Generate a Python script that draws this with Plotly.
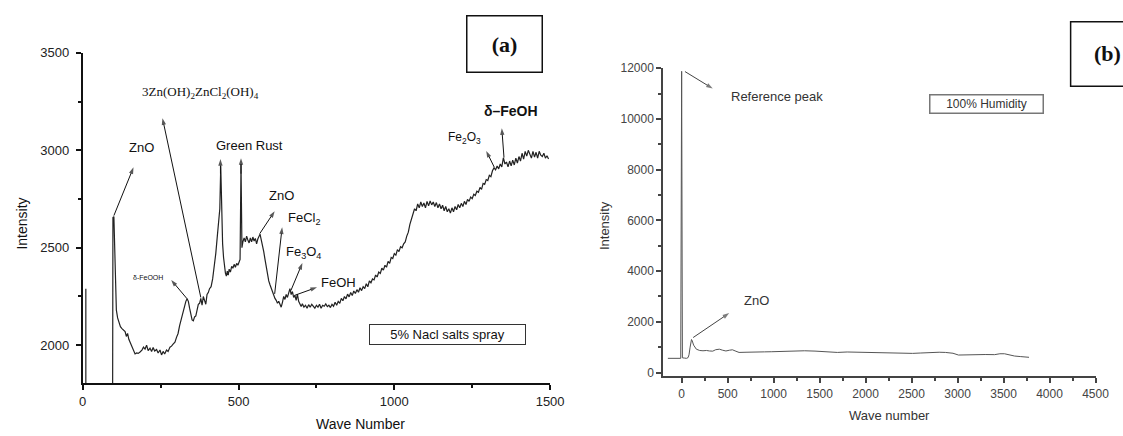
import plotly.graph_objects as go

W, H = 1123, 436

# ---------------- Panel (a): 5% NaCl salt spray ----------------
edge_a_x = [10, 10]
edge_a_y = [2290, 1750]

wave_a = [96, 97, 100, 104, 108, 112, 117, 121, 126, 131, 136, 140, 144, 148, 153, 158, 163, 168, 173, 178,
          184, 190, 195, 200, 205, 210, 216, 221, 226, 231, 237, 242, 248, 253, 258, 263, 269, 274, 280, 285,
          290, 296, 301, 306, 311, 316, 321, 326, 331, 335, 339, 343, 347, 351, 355, 359, 363, 367, 371, 375,
          379, 383, 387, 391, 395, 399, 403, 407, 412, 417, 422, 427, 432, 437, 440, 443, 446, 449, 452, 455,
          458, 461, 464, 467, 470, 474, 478, 482, 486, 490, 494, 498, 502, 505, 508, 511, 514, 518, 522, 526,
          530, 534, 538, 542, 546, 550, 554, 558, 562, 566, 569, 573, 577, 581, 585, 589, 593, 597, 601, 605,
          609, 613, 617, 621, 625, 629, 633, 637, 641, 645, 649, 653, 657, 661, 665, 669, 673, 677, 681, 685,
          689, 693, 697, 701, 705, 710, 715, 720, 725, 730, 735, 740, 745, 750, 755, 760, 765, 770, 775, 780,
          785, 790, 795, 800, 805, 810, 815, 820, 825, 830, 835, 840, 845, 850, 855, 860, 865, 870, 875, 880,
          885, 890, 895, 900, 905, 910, 915, 920, 925, 930, 935, 940, 945, 950, 955, 960, 965, 970, 975, 980,
          985, 990, 995, 1000, 1005, 1010, 1015, 1020, 1025, 1030, 1035, 1040, 1045, 1050, 1055, 1060, 1065, 1070, 1075, 1080,
          1085, 1090, 1095, 1100, 1105, 1110, 1115, 1120, 1125, 1130, 1135, 1140, 1145, 1150, 1155, 1160, 1165, 1170, 1175, 1180,
          1185, 1190, 1195, 1200, 1205, 1210, 1215, 1220, 1225, 1230, 1235, 1240, 1245, 1250, 1255, 1260, 1265, 1270, 1275, 1280,
          1285, 1290, 1295, 1300, 1305, 1310, 1315, 1320, 1325, 1330, 1335, 1340, 1345, 1350, 1355, 1360, 1365, 1370, 1375, 1380,
          1385, 1390, 1395, 1400, 1405, 1410, 1415, 1420, 1425, 1430, 1435, 1440, 1445, 1450, 1455, 1460, 1465, 1470, 1475, 1480,
          1485, 1490, 1495]
int_a = [1750, 2655, 2660, 2400, 2180, 2140, 2110, 2095, 2085, 2075, 2070, 2045, 2060, 2030, 2010, 1995, 1970, 1955, 1960, 1958,
         1965, 1975, 1990, 1980, 2000, 1972, 1985, 1968, 1988, 1970, 1978, 1960, 1975, 1950, 1968, 1955, 1975, 1968, 1990, 1995,
         2005, 2015, 2040, 2060, 2100, 2130, 2170, 2200, 2225, 2238, 2225, 2190, 2160, 2130, 2125, 2145, 2150, 2180, 2210, 2215,
         2240, 2205, 2250, 2230, 2210, 2260, 2270, 2290, 2300, 2340, 2400, 2470, 2560, 2650, 2700, 2920, 2620, 2520, 2450, 2400,
         2370, 2355, 2380, 2360, 2390, 2375, 2405, 2395, 2415, 2400, 2420, 2410, 2425, 2440, 2930, 2500, 2530, 2550, 2530, 2560,
         2540, 2525, 2550, 2530, 2555, 2535, 2548, 2520, 2545, 2560, 2570, 2540, 2515, 2480, 2440, 2400, 2370, 2330, 2310, 2290,
         2275, 2255, 2240, 2230, 2215, 2225, 2205, 2195, 2220, 2250, 2235, 2260, 2245, 2275, 2290, 2260, 2275, 2245, 2255, 2230,
         2262, 2225, 2210, 2198, 2212, 2195, 2205, 2190, 2208, 2195, 2210, 2198, 2190, 2205, 2195, 2210, 2190, 2205, 2200, 2212,
         2198, 2205, 2193, 2210, 2200, 2220, 2205, 2225, 2215, 2240, 2228, 2250, 2238, 2262, 2248, 2270, 2255, 2278, 2265, 2285,
         2272, 2295, 2280, 2300, 2290, 2315, 2300, 2330, 2320, 2340, 2335, 2360, 2350, 2375, 2368, 2395, 2385, 2410, 2400, 2430,
         2420, 2450, 2445, 2470, 2462, 2490, 2480, 2505, 2500, 2520, 2530, 2560, 2580, 2620, 2650, 2670, 2700, 2690, 2725, 2705,
         2735, 2712, 2730, 2705, 2738, 2715, 2740, 2720, 2735, 2712, 2732, 2705, 2725, 2700, 2718, 2690, 2712, 2685, 2700, 2678,
         2705, 2685, 2712, 2695, 2722, 2705, 2728, 2712, 2738, 2722, 2748, 2738, 2760, 2752, 2775, 2768, 2790, 2785, 2810, 2800,
         2830, 2825, 2850, 2845, 2872, 2865, 2895, 2910, 2900, 2920, 2905, 2930, 2915, 2962, 2930, 2940, 2915, 2945, 2920, 2950,
         2925, 2960, 2935, 2968, 2945, 2985, 2955, 2995, 2970, 3000, 2975, 2960, 2995, 2965, 2990, 2960, 2995, 2975, 2968, 2985,
         2960, 2972, 2955]

# ---------------- Panel (b): 100% humidity ----------------
wave_b = [-150, -100, -50, -10, 0, 1, 2, 3, 4, 8, 30, 53, 70, 80, 92, 100, 107, 115, 130, 160,
          196, 232, 270, 303, 338, 370, 410, 445, 481, 520, 552, 590, 624, 700, 800, 900, 980, 1100, 1200, 1337,
          1450, 1550, 1693, 1800, 1900, 1977, 2100, 2200, 2300, 2400, 2511, 2600, 2700, 2800, 2868, 2950, 3010, 3100,
          3200, 3300, 3403, 3460, 3510, 3560, 3620, 3687, 3740, 3777]
int_b = [560, 555, 560, 560, 11880, 3000, 8800, 2950, 6800, 580, 570, 560, 590, 700, 1000, 1200, 1303, 1250, 1080, 920,
         870, 858, 870, 850, 843, 900, 920, 880, 850, 880, 897, 840, 793, 800, 820, 815, 820, 840, 830, 858,
         845, 830, 793, 810, 800, 793, 790, 785, 770, 765, 755, 770, 790, 800, 793, 760, 690, 705,
         700, 710, 705, 740, 740, 700, 650, 628, 615, 600]

ticks_a_x = [0, 500, 1000, 1500]
ticks_a_y = [2000, 2500, 3000, 3500]
ticks_b_x = [0, 500, 1000, 1500, 2000, 2500, 3000, 3500, 4000, 4500]
ticks_b_y = [0, 2000, 4000, 6000, 8000, 10000, 12000]

# label arrows: (tail on spectrum) -> (head near label)
arrows_a = [((100, 2665), (163, 2913)), ((379, 2245), (256, 3165)), ((442, 2880), (442, 2955)),
            ((508, 2880), (508, 2960)), ((568, 2572), (616, 2688)), ((616, 2263), (640, 2605)),
            ((668, 2280), (705, 2422)), ((679, 2255), (752, 2297)), ((335, 2238), (284, 2335)),
            ((1321, 2913), (1295, 2997)), ((1352, 2963), (1345, 3113))]
arrows_b = [((36, 11870), (338, 11200)), ((125, 1380), (517, 2343))]


def px(x):
    return x / W


def py(y):
    return 1 - y / H


fig = go.Figure()
fig.add_trace(go.Scatter(x=edge_a_x, y=edge_a_y, mode="lines",
                         line=dict(color="#222", width=1.2), xaxis="x", yaxis="y", showlegend=False))
fig.add_trace(go.Scatter(x=wave_a, y=int_a, mode="lines",
                         line=dict(color="#222", width=1.2), xaxis="x", yaxis="y", showlegend=False))
fig.add_trace(go.Scatter(x=wave_b, y=int_b, mode="lines",
                         line=dict(color="#555", width=1), xaxis="x2", yaxis="y2", showlegend=False))


def add_arrow(tail, head, xa, ya, color):
    fig.add_trace(go.Scatter(
        x=[tail[0], head[0]], y=[tail[1], head[1]], mode="lines+markers",
        line=dict(color=color, width=1),
        marker=dict(symbol=["circle", "arrow"], size=[0, 7], color=color,
                    angleref="previous", line=dict(width=0)),
        xaxis=xa, yaxis=ya, showlegend=False, hoverinfo="skip", cliponaxis=False))


for tail, head in arrows_a:
    add_arrow(tail, head, "x", "y", "#111")
for tail, head in arrows_b:
    add_arrow(tail, head, "x2", "y2", "#444")

axis_common = dict(showline=True, showgrid=False, zeroline=False, ticks="outside",
                   ticklen=5, tickwidth=1.5, mirror=False)

fig.update_layout(
    width=W, height=H,
    margin=dict(l=0, r=0, t=0, b=0),
    paper_bgcolor="white", plot_bgcolor="white",
    font=dict(family="Arial, Liberation Sans, sans-serif", color="#111"),
    xaxis=dict(domain=[px(80), px(555)], range=[0, 1500], anchor="y",
               tickvals=ticks_a_x, linecolor="#111", linewidth=2, tickcolor="#111",
               tickfont=dict(size=13, color="#222"),
               minor=dict(dtick=250, tick0=0, ticks="outside", ticklen=3, tickcolor="#111"),
               **axis_common),
    yaxis=dict(domain=[py(385), py(47)], range=[1805, 3500], anchor="x",
               tickvals=ticks_a_y, linecolor="#111", linewidth=2, tickcolor="#111",
               tickfont=dict(size=13, color="#222"), ticklabelstandoff=4,
               minor=dict(dtick=250, tick0=0, ticks="outside", ticklen=3, tickcolor="#111"),
               **axis_common),
    xaxis2=dict(domain=[px(670), px(1109.3)], range=[-200, 4500], anchor="y2",
                tickvals=ticks_b_x, linecolor="#444", linewidth=2, tickcolor="#444",
                tickfont=dict(size=12, color="#444"), tickformat="d",
                minor=dict(dtick=250, tick0=0, ticks="outside", ticklen=3, tickcolor="#444"),
                **axis_common),
    yaxis2=dict(domain=[py(378), py(62.7)], range=[-150, 12000], anchor="x2",
                tickvals=ticks_b_y, linecolor="#444", linewidth=2, tickcolor="#444",
                tickfont=dict(size=12, color="#444"), tickformat="d",
                minor=dict(dtick=1000, tick0=0, ticks="outside", ticklen=3, tickcolor="#444"),
                **axis_common),
    shapes=[dict(type="rect", xref="paper", yref="paper",
                 x0=px(1084), x1=px(1160), y0=py(81), y1=py(15),
                 line=dict(color="#111", width=1.5))],
)

ann = []


def label(text, x, y, size=13, family="Arial, Liberation Sans, sans-serif", color="#111", **kw):
    d = dict(text=text, x=px(x), y=py(y), xref="paper", yref="paper",
             showarrow=False, xanchor="center", yanchor="middle",
             font=dict(size=size, family=family, color=color))
    d.update(kw)
    ann.append(d)


# Panel (a) labels
label("3Zn(OH)<sub>2</sub>ZnCl<sub>2</sub>(OH)<sub>4</sub>", 200, 88, size=13,
      family="Liberation Serif, Times New Roman, serif")
label("ZnO", 140, 144, size=13)
label("Green Rust", 249, 142, size=13)
label("ZnO", 282, 193, size=13)
label("FeCl<sub>2</sub>", 305, 216, size=13)
label("Fe<sub>3</sub>O<sub>4</sub>", 304, 251, size=13)
label("FeOH", 340, 282, size=13)
label("δ-FeOOH", 146, 277, size=7)
label("Fe<sub>2</sub>O<sub>3</sub>", 468, 134, size=12)
label("<b>δ–FeOH</b>", 515, 106, size=14)
label("5% Nacl salts spray", 450.5, 335, size=13, bordercolor="#333", borderwidth=1,
      borderpad=1, width=153, height=17)
label("<b>(a)</b>", 509, 38, size=22, family="Liberation Serif, Times New Roman, serif",
      bordercolor="#111", borderwidth=1.5, borderpad=1, width=72, height=53)
label("Intensity", 18, 222, size=14, textangle=-90)
label("Wave Number", 362, 427, size=14)

# Panel (b) labels
label("Reference peak", 786, 92, size=13, color="#333")
label("ZnO", 765, 300, size=13, color="#333")
label("100% Humidity", 998, 99, size=12, color="#333", bordercolor="#777", borderwidth=1.5,
      borderpad=1, width=110, height=15)
label("<b>(b)</b>", 1106, 48, size=22, family="Liberation Serif, Times New Roman, serif",
      xanchor="left")
label("Intensity", 611, 224, size=13, color="#333", textangle=-90)
label("Wave number", 900, 418, size=13, color="#333")

fig.update_layout(annotations=ann)
fig.write_html("out.html")
